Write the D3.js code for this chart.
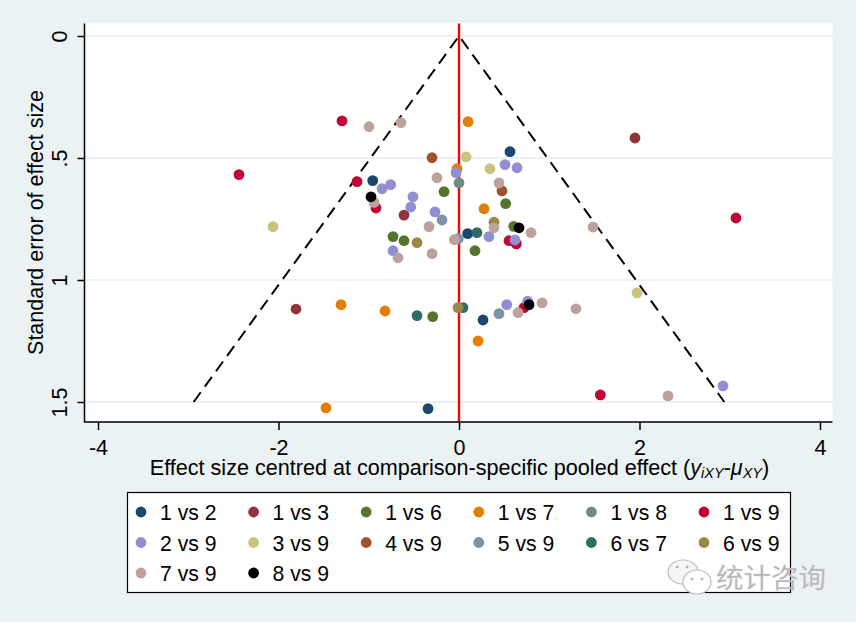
<!DOCTYPE html>
<html><head><meta charset="utf-8">
<script src="https://cdn.jsdelivr.net/npm/d3@7"></script>
<style>html,body{margin:0;padding:0;background:#eaf2f3}svg{display:block}text{font-family:"Liberation Sans",Arial,sans-serif;fill:#000}</style>
</head><body><svg id="c" width="856" height="622"></svg>
<script>
const comparisons=["1 vs 2","1 vs 3","1 vs 6","1 vs 7","1 vs 8","1 vs 9","2 vs 9","3 vs 9","4 vs 9","5 vs 9","6 vs 7","6 vs 9","7 vs 9","8 vs 9"];
const colors=["#1a476f","#90353b","#55752f","#e37e00","#6e8e84","#c10534","#938dd2","#cac27e","#a0522d","#7b92a8","#2d6d66","#9c8847","#bfa19c","#000000"];
const xTicks=[-4,-2,0,2,4];
const yTicks=[0,0.5,1,1.5];
const funnelX=[-2.94,0,2.94];
const funnelSE=[1.5,0,1.5];
const s12=[[.565,.474],[-.956,.593],[.096,.810],[.266,1.164],[-.343,1.527]];
const s13=[[1.950,.418],[-.609,.734],[-1.806,1.119]];
const s16=[[-.166,.638],[.517,.687],[.606,.780],[-.731,.822],[-.609,.839],[.177,.880],[-.291,1.150]];
const s17=[[.100,.351],[-.022,.544],[.277,.708],[-1.307,1.101],[-.820,1.127],[.211,1.250],[-1.474,1.524]];
const s18=[[0,.602]];
const s19=[[-1.296,.348],[-2.438,.568],[-1.130,.597],[-.920,.705],[.554,.839],[.635,.852],[.720,1.113],[1.566,1.471],[3.069,.746]];
const s29=[[.510,.527],[.643,.540],[-.033,.560],[-.853,.626],[-.757,.609],[-.510,.659],[-.535,.701],[-.266,.721],[.332,.822],[.620,.836],[-.731,.880],[.529,1.101],[.761,1.087],[2.925,1.434]];
const s39=[[.078,.495],[.343,.544],[-2.061,.781],[1.972,1.053]];
const s49=[[-.299,.499],[.476,.635]];
const s59=[[-.188,.754],[-.008,.831],[.443,1.138]];
const s67=[[.199,.806],[-.465,1.146],[.044,1.113]];
const s69=[[.388,.763],[-.465,.847],[-.011,1.113]];
const s79=[[-.997,.372],[-.643,.355],[-.244,.581],[.443,.602],[-.942,.682],[-.332,.781],[.388,.786],[.798,.806],[-.052,.835],[-.676,.909],[-.299,.892],[1.485,.783],[.654,1.134],[.920,1.094],[1.296,1.118],[2.316,1.475]];
const s89=[[-.975,.659],[.665,.786],[.776,1.101]];
const seriesValues=[s12,s13,s16,s17,s18,s19,s29,s39,s49,s59,s67,s69,s79,s89];

const bg="#eaf2f3";
const svg=d3.select("#c");
const x=d3.scaleLinear().domain([-4,4]).range([98,820]);
const y=d3.scaleLinear().domain([0,1.5]).range([36,402]);
const L=84.5,R=832.5,T=23.5,B=422;

svg.append("rect").attr("width",856).attr("height",622).attr("fill",bg);
svg.append("rect").attr("x",L).attr("y",T).attr("width",R-L).attr("height",B-T).attr("fill","#fff");

svg.append("g").selectAll("line").data(yTicks).join("line")
  .attr("x1",L).attr("x2",R).attr("y1",d=>y(d)).attr("y2",d=>y(d))
  .attr("stroke",bg).attr("stroke-width",2);

const lineGen=d3.line().x(d=>x(d[0])).y(d=>y(d[1]));
svg.append("path").datum(funnelX.map((v,i)=>[v,funnelSE[i]])).attr("d",lineGen)
  .attr("fill","none").attr("stroke","#000").attr("stroke-width",2).attr("stroke-dasharray","12 7");

svg.append("line").attr("x1",x(0)).attr("x2",x(0)).attr("y1",T).attr("y2",B)
  .attr("stroke","#ff0000").attr("stroke-width",2.4);

seriesValues.forEach((pts,i)=>{
  svg.append("g").selectAll("circle").data(pts).join("circle")
    .attr("cx",d=>x(d[0])).attr("cy",d=>y(d[1])).attr("r",5.4).attr("fill",colors[i]);
});

const gx=svg.append("g").attr("transform",`translate(0,${B})`)
  .call(d3.axisBottom(x).tickValues(xTicks).tickSize(8).tickPadding(10).tickFormat(d=>String(d).replace("\u2212","-")));
const gy=svg.append("g").attr("transform",`translate(${L},0)`)
  .call(d3.axisLeft(y).tickValues(yTicks).tickSize(7).tickPadding(0).tickFormat(d=>d===0.5?".5":d===1.5?"1.5":String(d)));
[gx,gy].forEach(g=>{g.select(".domain").remove();g.selectAll("line").attr("stroke","#000").attr("stroke-width",1.5);
  g.selectAll("text").attr("font-size",21.5).attr("font-family","Liberation Sans").attr("fill","#000");});
gy.selectAll("text").attr("text-anchor","middle").attr("dy",0).attr("x",0).attr("y",0)
  .attr("transform",d=>`translate(-17.5,0) rotate(-90)`);
svg.append("line").attr("x1",L).attr("x2",L).attr("y1",T).attr("y2",B+.5).attr("stroke","#000").attr("stroke-width",1.5);
svg.append("line").attr("x1",L).attr("x2",R).attr("y1",B).attr("y2",B).attr("stroke","#000").attr("stroke-width",1.5);

svg.append("text").attr("transform","translate(43,222.5) rotate(-90)").attr("text-anchor","middle")
  .attr("font-size",21.5).text("Standard error of effect size");
const xt=svg.append("text").attr("x",459.5).attr("y",475).attr("text-anchor","middle").attr("font-size",21.6);
xt.append("tspan").text("Effect size centred at comparison-specific pooled effect (");
xt.append("tspan").attr("font-style","italic").text("y");
xt.append("tspan").attr("font-style","italic").attr("font-size",14.5).attr("dy",3).text("iXY");
xt.append("tspan").attr("dy",-3).text("-");
xt.append("tspan").attr("font-style","italic").text("\u03bc");
xt.append("tspan").attr("font-style","italic").attr("font-size",14.5).attr("dy",3).text("XY");
xt.append("tspan").attr("dy",-3).text(")");

svg.append("rect").attr("x",127.5).attr("y",492.5).attr("width",663).attr("height",100)
  .attr("fill","#fff").attr("stroke","#000").attr("stroke-width",1.2);
const legCol=d3.scalePoint().domain(d3.range(6)).range([141,704]);
const legRow=d3.scalePoint().domain(d3.range(3)).range([512,573]);
const leg=svg.append("g").selectAll("g").data(comparisons).join("g")
  .attr("transform",(d,i)=>`translate(${legCol(i%6)},${legRow(Math.floor(i/6))})`);
leg.append("circle").attr("r",5.4).attr("fill",(d,i)=>colors[i]);
leg.append("text").attr("x",19).attr("y",8).attr("font-size",21.2).text(d=>d);

const wm=svg.append("g");
wm.append("ellipse").attr("cx",683).attr("cy",572).attr("rx",15).attr("ry",12).attr("fill","#f4f6f6").attr("stroke","#bdbdbd").attr("stroke-width",1.2);
wm.append("ellipse").attr("cx",697).attr("cy",582).attr("rx",14).attr("ry",12).attr("fill","#fff").attr("stroke","#bdbdbd").attr("stroke-width",1.2);
[[677,567],[687,567],[692,579],[702,579]].forEach(p=>wm.append("circle").attr("cx",p[0]).attr("cy",p[1]).attr("r",1.4).attr("fill","#b5b5b5"));
wm.append("text").attr("x",716).attr("y",588).attr("font-size",27.5)
  .style("font-family",'"Noto Sans CJK SC"').style("fill","#b4b4b4").style("stroke","#d8d8d8").style("stroke-width",.3).text("统计咨询");
</script></body></html>
